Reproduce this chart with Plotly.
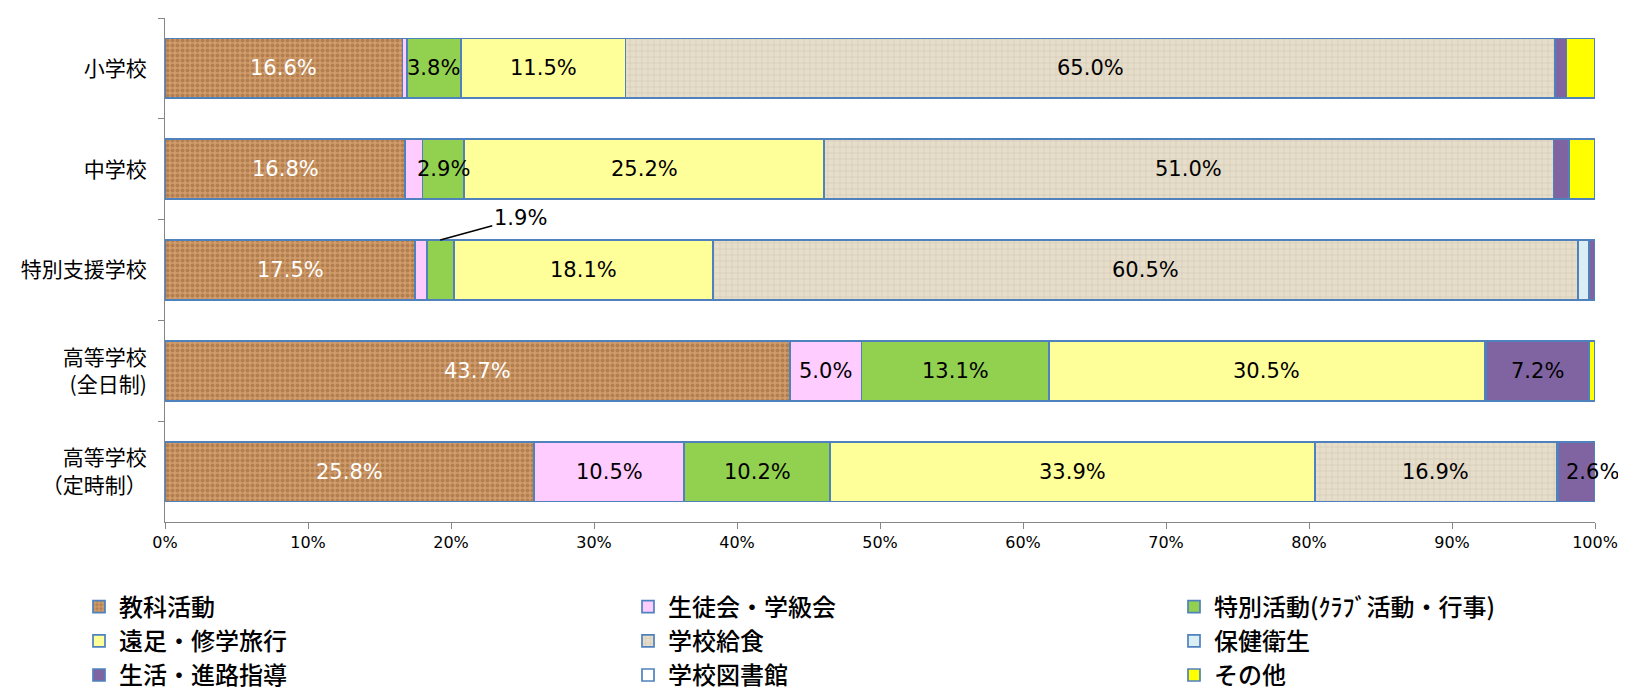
import plotly.graph_objects as go

categories = ['小学校', '中学校', '特別支援学校', '高等学校<br>(全日制)', '高等学校<br>（定時制）']

series_names = ['教科活動', '生徒会・学級会', '特別活動(ｸﾗﾌﾞ活動・行事)', '遠足・修学旅行',
                '学校給食', '保健衛生', '生活・進路指導', '学校図書館', 'その他']

kyoka = [16.6, 16.8, 17.5, 43.7, 25.8]
seitokai = [0.3, 1.2, 0.8, 5.0, 10.5]
tokubetsu = [3.8, 2.9, 1.9, 13.1, 10.2]
ensoku = [11.5, 25.2, 18.1, 30.5, 33.9]
kyushoku = [65.0, 51.0, 60.5, None, 16.9]
hoken = [None, None, 0.8, 0.1, 0.1]
seikatsu = [0.8, 1.1, 0.4, 7.2, 2.6]
toshokan = [None, None, None, None, None]
sonota = [2.0, 1.8, None, 0.4, None]

values = [kyoka, seitokai, tokubetsu, ensoku, kyushoku, hoken, seikatsu, toshokan, sonota]

colors = ['#c8915f', '#ffccff', '#92d050', '#ffff99', '#e2d9c6', '#daeef3', '#8064a2', '#ffffff', '#ffff00']
text_colors = ['white', 'black', 'black', 'black', 'black', 'black', 'black', 'black', 'black']

patterns = {
    0: dict(shape='.', fgcolor='#98622f', bgcolor='#d09c6c', size=5, solidity=0.5, fillmode='overlay'),
    4: dict(shape='+', fgcolor='#c8bca6', bgcolor='#e6ddcb', size=6, solidity=0.25, fillmode='overlay'),
}

border = '#4f81bd'
legend_ids = ['legend', 'legend2', 'legend3']

fig = go.Figure()
for i, (name, vals) in enumerate(zip(series_names, values)):
    marker = dict(color=colors[i], line=dict(color=border, width=1.7))
    if i in patterns:
        marker['pattern'] = patterns[i]
    fig.add_trace(go.Bar(
        y=categories, x=vals, name=name, orientation='h',
        marker=marker, hoverinfo='skip', showlegend=True,
        legend=legend_ids[i % 3],
    ))

# data labels
label_font = dict(family='DejaVu Sans', size=21)
callout = (2, 2)  # (series idx, category idx) labelled with leader line
xshift_special = {(6, 4): 16}
cum = [0.0] * len(categories)
for i, vals in enumerate(values):
    for j, v in enumerate(vals):
        if v is None:
            continue
        center = cum[j] + v / 2
        if (i, j) == callout:
            fig.add_annotation(x=center, y=categories[j], text=f'{v:.1f}%', showarrow=True,
                               arrowhead=0, arrowwidth=1.5, arrowcolor='black',
                               ax=80, ay=-22, yshift=30, font=dict(label_font, color='black'))
        elif v >= 2.5:
            fig.add_annotation(x=center, y=categories[j], text=f'{v:.1f}%', showarrow=False,
                               xshift=xshift_special.get((i, j), 0),
                               font=dict(label_font, color=text_colors[i]))
        cum[j] += v

tick_vals = list(range(0, 101, 10))
tick_text = [f'{t}%' for t in tick_vals]

W, H = 1626, 693
L, R, T, B = 157, 39, 10, 179
plot_w = W - L - R
legend_left_px = [71, 620, 1166]
legend_common = dict(orientation='v', xanchor='left', y=-0.124, yanchor='top',
                     traceorder='normal', tracegroupgap=0, bgcolor='rgba(0,0,0,0)',
                     font=dict(family='Noto Sans CJK JP', size=24, color='black', weight=500))

fig.update_layout(
    width=W, height=H,
    barmode='stack', bargap=0.406,
    plot_bgcolor='white', paper_bgcolor='white',
    margin=dict(l=L, r=R, t=T, b=B, autoexpand=False),
    xaxis=dict(range=[0, 100], tickvals=tick_vals, ticktext=tick_text, showgrid=False,
               zeroline=False, showline=True, linecolor='#868686', linewidth=1,
               ticks='outside', ticklen=6, tickcolor='#868686',
               tickfont=dict(family='DejaVu Sans', size=16, color='black')),
    yaxis=dict(type='category', categoryorder='array', categoryarray=categories,
               autorange='reversed', showgrid=False, zeroline=False, showline=True,
               linecolor='#868686', linewidth=1, ticks='outside', ticklen=6,
               tickcolor='#868686', tickson='boundaries', ticklabelstandoff=13,
               tickfont=dict(family='Noto Sans CJK JP', size=21, color='black')),
    legend=dict(legend_common, x=(legend_left_px[0] - L) / plot_w),
    legend2=dict(legend_common, x=(legend_left_px[1] - L) / plot_w),
    legend3=dict(legend_common, x=(legend_left_px[2] - L) / plot_w),
)

fig.write_html('out.html')
